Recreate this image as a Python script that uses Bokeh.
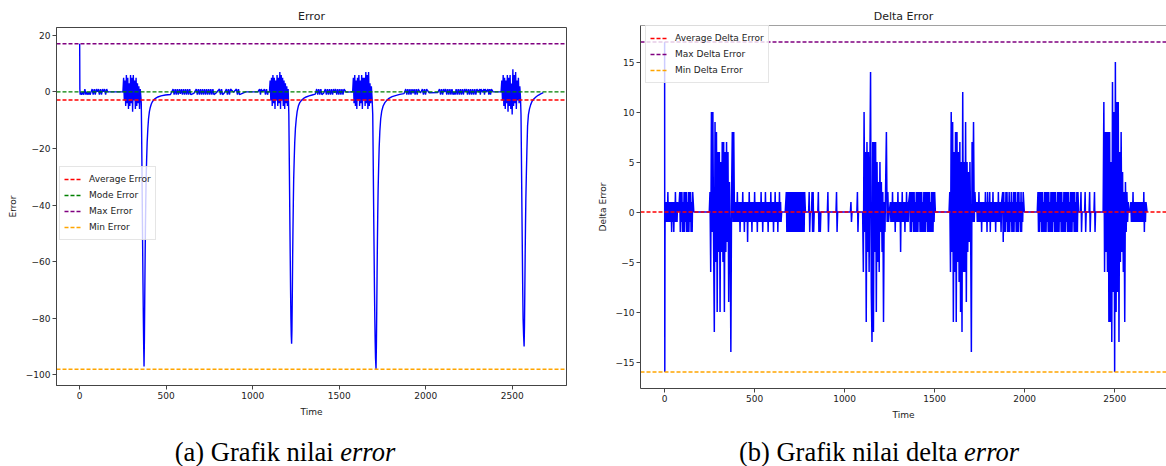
import numpy as np
from bokeh.plotting import figure
from bokeh.models import Span, FixedTicker, CustomJSTickFormatter, Div, Range1d
from bokeh.layouts import row, column
from bokeh.embed import file_html
from bokeh.resources import INLINE

# ---------------- data ----------------
x_ticks = [0, 500, 1000, 1500, 2000, 2500]
err_y_ticks = [-100, -80, -60, -40, -20, 0, 20]
delta_y_ticks = [-15, -10, -5, 0, 5, 10, 15]

# Error: irregular vertices (spike, dives, recoveries, flat stretches)
err_pts_t = [0, 1, 2, 3, 168, 246,
             356, 358, 360, 362, 364, 366, 368, 370, 372, 374, 376, 378, 380, 382, 384, 387, 390, 394, 398,
             403, 408, 414, 420, 428, 438, 452, 470, 495, 525,
             582, 660, 790, 838, 890, 960, 1030, 1056, 1090,
             1209, 1211, 1213, 1215, 1217, 1219, 1221, 1223, 1225, 1227, 1229, 1231, 1233, 1235, 1237,
             1240, 1243, 1247, 1252, 1257, 1264, 1272, 1282, 1294, 1309, 1326, 1344, 1362,
             1410, 1474, 1540, 1574,
             1694, 1696, 1698, 1700, 1702, 1704, 1706, 1708, 1710, 1713, 1715, 1717, 1719, 1721, 1723,
             1725, 1728, 1731, 1735, 1740, 1746, 1754, 1764, 1776, 1790, 1806, 1825, 1850, 1875,
             1927, 1970, 2020, 2070, 2306, 2328, 2352, 2390, 2430,
             2551, 2553, 2555, 2557, 2559, 2561, 2563, 2566, 2569, 2571, 2573, 2575, 2577, 2579, 2582,
             2585, 2589, 2594, 2600, 2607, 2615, 2625, 2637, 2650, 2665, 2680]
err_pts_v = [17, 1, 0, -1, 0, 0,
             -4, -14, -27, -41, -55, -68, -80, -90, -97, -88, -74, -60, -48, -39, -31, -24, -18, -13, -9.5,
             -7, -5.5, -4.3, -3.5, -2.8, -2.3, -1.8, -1.4, -1.1, -0.9,
             -0.7, -0.5, -0.3, -0.2, -0.1, 0, 0, 0, 0,
             -8, -20, -33, -46, -58, -70, -80, -86, -89, -84, -72, -59, -48, -39, -31,
             -24, -18, -13, -9.5, -7, -5, -3.8, -3, -2.3, -1.8, -1.4, -1.1, -0.8,
             -0.5, -0.3, -0.1, 0,
             -8, -20, -33, -46, -58, -70, -80, -88, -94, -98, -90, -78, -65, -53, -43,
             -35, -27, -20, -14, -9.5, -6.8, -5, -3.8, -2.9, -2.2, -1.7, -1.3, -0.9, -0.6,
             -0.5, -0.4, -0.3, -0.2, -0.1, -0.1, 0, 0, 0,
             -8, -20, -33, -46, -58, -70, -80, -86, -90, -83, -71, -58, -47, -38, -29,
             -21, -12, -8, -6, -4.5, -3.3, -2.5, -1.8, -1.2, -0.7, -0.3]

# Error: dense oscillating stretches as (start time, time step, values)
err_blocks = [
    (6, 6, [0, -1, 0, -1, 1, -1, 0, -1, 0, -1, 0, 1, -1, 1, -1, 1, 0, 1, -1, 1, -1, 1, 0, 1, -1, 1, 0]),
    (250, 4, [0, 5, -3, 4, -5, 6, -4, 5, -6, 3, -5, 6, -4, 5, -7, 6, -3, 4, -6, 5, -5, 3, -4, 2, -6, 1, -2]),
    (540, 6, [1, -1, 1, -1, 1, -1, 1]),
    (588, 6, [1, -1, 1, -1, 1, -1, 1, -1, 1, -1]),
    (674, 6, [1, -1, 1, -1, 1, -1, 1, -1, 1, -1, 1, -1, 1, -1, 1, -1, 1, -1]),
    (808, 6, [1, -1, 1, -1]),
    (848, 6, [1, -1, 1, -1, 1]),
    (906, 6, [1, -1, 1, -1]),
    (1040, 5, [1, -1, 1]),
    (1068, 6, [1, -1, 1, -1]),
    (1097, 4, [0, 4, -3, 5, -5, 6, -4, 5, -6, 4, -3, 6, -5, 5, -4, 7, -6, 6, -3, 5, -5, 4, -6, 3, -4, 2, -5, 1]),
    (1370, 6, [1, -1, 1, -1, 1, -1]),
    (1420, 6, [1, -1, 1, -1, 1, -1, 1, -1, 1]),
    (1480, 6, [1, -1, 1, -1, 1, -1, 1, -1, 1]),
    (1578, 4, [0, 5, -4, 6, -5, 4, -6, 5, -3, 6, -5, 4, -4, 6, -6, 5, -3, 5, -5, 7, -4, 6, -6, 7, -5, 3, -4, 2, -2]),
    (1885, 6, [1, -1, 1, -1, 1, -1, 1]),
    (1933, 6, [1, -1, 1, -1, 1]),
    (1981, 6, [1, -1, 1, -1, 1]),
    (2080, 6, [1, -1, 1, -1, 1, 0, 1, -1, 1, -1, 1, -1, 1, -1, 0, -1, 1, -1, 1, -1, 1, -1, 1, -1, 1,
               0, 1, -1, 1, -1, 1, -1, 1, -1, 1, -1, 1]),
    (2312, 4, [1, -1, 1]),
    (2336, 4, [1, -1, 1]),
    (2360, 5, [1, -1, 1, -1, 1]),
    (2436, 4, [0, 4, -3, 6, -5, 5, -6, 4, -4, 6, -7, 5, -5, 6, -6, 3, -8, 8, -5, 6, -4, 7, -6, 4, -3, 5, -4, 2, -2]),
]

# Delta error: isolated vertices
d_pts_t = [0, 1, 2, 3, 4, 78, 162, 244, 656, 670, 782, 796, 1000, 1028, 1094, 1504, 1576,
           1998, 2070, 2300, 2430, 2586, 2680]
d_pts_v = [17, -16, -3, 1, 0, 0, 0, 0, 0, 0, 0, 0, 0, 0, 0, 0, 0,
           0, 0, 0, 0, 0, 0]

# Delta error: oscillating stretches as (start time, time step, values)
d_blocks = [
    (6, 3, [1, -1, 1, -1, 2, -1, 1, -1, 1, -1, 1, -2, 1, -1, 1, -2, 1, -1, 2, -1, 1, -1, 1]),
    (84, 3, [2, -2, 2, -1, 2, -2, 1, -2, 2, -2, 2, -1, 2, -2, 1, -2, 2, -2, 2, -1, 2, -2, 1, -2, 2]),
    (248, 4, [0, 2, -6, 10, -2, 10, -3, -12, 9, -5, 8, -10, 6, -4, 6, -10, 5, -4, 7, -5, 7, -10, 6, -4,
              7, -3, 6, -9, 3, -2, -14, 2, 8, -1, 8, -1]),
    (392, 3, [1, -1, 1, -1, 2, -1, 1, -1, 1, -2, 1, -1, 1, -1, 2, -1, 1, -2, 1, -1,
              1, -1, 1, -3, 1, -1, 2, -1, 1, -1, 1, -2, 1, -1, 1, -1, 2, -1, 1, -1,
              1, -2, 1, -1, 1, -1, 1, -1, 2, -1, 1, -2, 1, -1, 1, -1, 2, -1, 1, -1,
              1, -2, 1, -1, 1, -1, 2, -1, 1, -1, 1, -2, 1, -1, 2, -1, 1, -1, 1, -2,
              1, -1, 2, -1, 1, -1, 0]),
    (676, 3, [2, -2, 2, -2, 2, -2, 2, -2, 2, -2, 2, -2, 2, -2, 2, -2, 2, -2, 2, -2,
              2, -2, 2, -2, 2, -2, 2, -2, 2, -2, 2, -2, 2, -2, 2]),
    (800, 3, [0, 2, -2, 0]),
    (816, 3, [0, 2, -2, 2, -2, 0]),
    (851, 3, [0, 2, -2, 0]),
    (862, 3, [0, -2, 0]),
    (904, 3, [0, 2, -2, 0]),
    (952, 3, [0, 2, -2, 0]),
    (1032, 3, [0, 1, -1, 0]),
    (1068, 3, [0, 2, -2, 0]),
    (1100, 4, [0, -6, 10, -2, 6, -11, 7, -4, 6, -6, 4, 14, -8, -13, 7, -12, 7, -4, 7, -10, 5, -5, 3, -6,
               5, -2, 3, -4, 2, -11, 1, -2, 3, 8, -1, 2, -1, 0]),
    (1254, 3, [1, -1, 1, -1, 2, -1, 1, -1, 1, -2, 1, -1, 1, -1, 2, -1, 1, -1, 1, -4,
               1, -1, 2, -1, 1, -1, 1, -2, 1, -1, 2, -1, 1, -1, 1]),
    (1362, 3, [2, -2, 2, -2, 2, -1, 2, -2, 2, -2, 1, -2, 2, -2, 2, -2, 2, -1, 2, -2,
               2, -2, 2, -2, 1, -2, 2, -2, 2, -2, 2, -1, 2, -2, 2, -2, 2, -2, 1, -2,
               2, -2, 2, -2, 2, -1, 2]),
    (1580, 4, [0, 2, -6, 10, -4, 9, -11, 6, -6, 8, -11, 8, -5, 6, -7, 7, -10, 5, -12, 12, -6, 5, -6, 9,
               -9, 5, -4, 4, -3, 5, -2, -14, 7, -1, 9, -1, 2, 0]),
    (1734, 3, [1, -1, 1, -1, 2, -1, 1, -1, 1, -2, 1, -1, 1, -1, 1, -1, 2, -1, 1, -2,
               2, -1, 1, -1, 2, -2, 1, -1, 1, -1, 2, -1, 1, -1, 1, -2, 1, -1, 1, -1,
               2, -1, 1, -1, 1, -2, 1]),
    (1878, 3, [2, -3, 2, -2, 1, -2, 2, -1, 2, -2, 1, -2, 2, -2, 1, -1, 2, -2, 1, -2,
               2, -2, 2, -1, 2, -2, 1, -2, 2, -2, 2, -1, 1, -2, 2, -2, 1, -1, 2]),
    (2074, 3, [2, -2, 2, -2, 2, -1, 2, -2, 2, -2, 1, -2, 2, -2, 2, -2, 2, -1, 2, -2,
               2, -2, 1, -2, 2, -2, 2, -2, 2, -1, 2, -2, 2, -2, 1, -2, 2, -2, 2, -2,
               2, -1, 2, -2, 2, -2, 1, -2, 2, -2, 2, -2, 2, -1, 2, -2, 2, -2, 1, -2,
               2, -2, 2, -2, 2, -1, 2, -2, 2, -2, 1, -2, 2, -2, 2]),
    (2310, 3, [0, 2, -2, 0]),
    (2333, 3, [0, 2, -2, 0]),
    (2358, 3, [0, 2, -2, 0]),
    (2385, 3, [0, 2, -2, 0]),
    (2436, 4, [0, 11, -6, 8, -4, 8, -6, 8, -11, 8, -11, 5, -13, 13, -8, 10, -16, 15, -10, 11, -8, 11, -13,
               6, -5, 8, -4, 4, -6, 2, -11, 3, -2, 2, -1, 1, 0]),
    (2590, 3, [1, -1, 1, -1, 2, -1, 1, -1, 1, -1, 1, -1, 1, -1, 1, -1, 1, -1, 1, -1,
               1, -1, 1, -1, 2, -2, 1, -1, 1]),
]

err_ref_labels = ["Average Error", "Mode Error", "Max Error", "Min Error"]
err_ref_values = [-2.85, 0, 17, -98]
delta_ref_labels = ["Average Delta Error", "Max Delta Error", "Min Delta Error"]
delta_ref_values = [0.0, 17, -16]

# axis limits (matplotlib style 5% margins; right panel is cut at the page edge)
err_x_lim = (-134, 2814)
err_y_lim = (-103.75, 22.75)
delta_x_lim = (-134, 2788)
delta_y_lim = (-17.65, 18.65)


def build(pts_t, pts_v, blocks):
    ts = list(pts_t)
    vs = list(pts_v)
    for start, step, vals in blocks:
        for i, v in enumerate(vals):
            ts.append(start + i * step)
            vs.append(v)
    order = np.argsort(np.array(ts, dtype=float), kind="stable")
    return np.array(ts, dtype=float)[order], np.array(vs, dtype=float)[order]


err_t, err_v = build(err_pts_t, err_pts_v, err_blocks)
d_t, d_v = build(d_pts_t, d_pts_v, d_blocks)

# ---------------- styling ----------------
FONT = "DejaVu Sans"
INK = "#222222"
SPINE = "#444444"
ref_colors_err = ["red", "green", "purple", "orange"]
ref_colors_delta = ["red", "purple", "orange"]
ref_widths_err = [1.5, 1.3, 1.3, 1.3]
ref_widths_delta = [1.5, 1.3, 1.3]


def style(p, yticks, title_standoff):
    p.title.text_font = FONT
    p.title.text_font_size = "11px"
    p.title.text_font_style = "normal"
    p.title.text_color = INK
    p.title.align = "center"
    p.title.standoff = title_standoff
    p.grid.visible = False
    p.background_fill_color = "white"
    p.border_fill_color = "white"
    for ax in p.axis:
        ax.major_label_text_font = FONT
        ax.major_label_text_font_size = "9px"
        ax.major_label_text_color = INK
        ax.axis_label_text_font = FONT
        ax.axis_label_text_font_size = "9px"
        ax.axis_label_text_font_style = "normal"
        ax.axis_label_text_color = INK
        ax.minor_tick_line_color = None
        ax.major_tick_in = 0
        ax.major_tick_out = 4
        ax.major_label_standoff = 2
        ax.axis_label_standoff = 5
        ax.axis_line_color = SPINE
        ax.major_tick_line_color = SPINE
    p.xaxis.ticker = FixedTicker(ticks=x_ticks)
    p.yaxis.ticker = FixedTicker(ticks=yticks)
    p.yaxis.formatter = CustomJSTickFormatter(code="return String(tick).replace('-', '\u2212');")


def add_refs(p, xlim, labels, values, colors, widths, loc):
    for lab, val, col, w in zip(labels, values, colors, widths):
        p.line(x=[xlim[0], xlim[1]], y=[val, val], line_color=col, line_dash="4 2",
               line_width=w, legend_label=lab)
    lg = p.legend[0]
    lg.location = loc
    lg.label_text_font = FONT
    lg.label_text_font_size = "9px"
    lg.label_text_color = INK
    lg.label_height = 16
    lg.glyph_height = 16
    lg.glyph_width = 18
    lg.label_standoff = 7
    lg.padding = 4
    lg.spacing = 0
    lg.margin = 0
    lg.border_line_color = "#cccccc"
    lg.border_line_width = 1
    lg.background_fill_alpha = 0.8


# ---------------- left: Error ----------------
p1 = figure(width=590, height=439, title="Error", output_backend="svg", toolbar_location=None,
            x_range=Range1d(*err_x_lim), y_range=Range1d(*err_y_lim),
            min_border_left=56, min_border_right=24, min_border_top=27, min_border_bottom=54,
            x_axis_label="Time", y_axis_label="Error")
style(p1, err_y_ticks, 10)
p1.outline_line_color = SPINE
p1.outline_line_width = 1
p1.line(err_t, err_v, line_color="blue", line_width=1.4)
add_refs(p1, err_x_lim, err_ref_labels, err_ref_values, ref_colors_err, ref_widths_err, (3, 145))

# ---------------- right: Delta Error ----------------
p2 = figure(width=576, height=439, title="Delta Error", output_backend="svg", toolbar_location=None,
            x_range=Range1d(*delta_x_lim), y_range=Range1d(*delta_y_lim),
            min_border_left=50, min_border_right=0, min_border_top=25, min_border_bottom=51,
            x_axis_label="Time", y_axis_label="Delta Error")
style(p2, delta_y_ticks, 6)
p2.outline_line_color = None
p2.line(d_t, d_v, line_color="blue", line_width=1.5)
p2.add_layout(Span(location=delta_y_lim[1], dimension="width", line_color=SPINE, line_width=1))
add_refs(p2, delta_x_lim, delta_ref_labels, delta_ref_values, ref_colors_delta, ref_widths_delta, (5, 305))

cap_style = {"font-family": "'Liberation Serif', 'Times New Roman', serif", "font-size": "26.5px",
             "line-height": "26px", "text-align": "center", "color": "#000000", "white-space": "nowrap"}
d1 = Div(text="(a) Grafik nilai <i>error</i>", width=400, height=26, margin=(0, 0, 0, 85), styles=cap_style)
d2 = Div(text="(b) Grafik nilai delta <i>error</i>", width=400, height=26, margin=(0, 0, 0, 89), styles=cap_style)

layout = row(column(p1, d1, spacing=0), column(p2, d2, spacing=0), spacing=0)

open("out.html", "w").write(file_html(layout, INLINE))
